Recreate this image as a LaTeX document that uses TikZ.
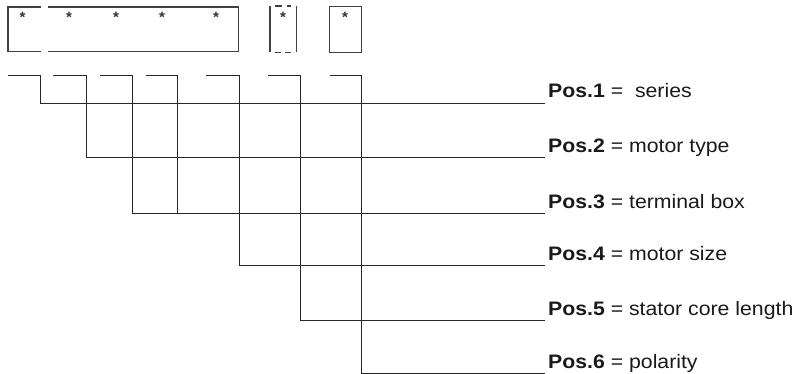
\documentclass[tikz,border=0pt]{standalone}
\usepackage{graphicx}
\usepackage{fontspec}
\setmainfont{Liberation Sans}
\begin{document}
\begin{tikzpicture}[x=1pt,y=-1pt,
  conn/.style={draw=black!85, line width=0.9pt},
  boxline/.style={draw=black!75, line width=1.1pt},
  starmark/.style={anchor=north, inner sep=0pt, font=\fontsize{15}{15}\selectfont\bfseries, text=black!80},
  lbl/.style={anchor=base west, inner sep=0pt, font=\fontsize{19.5}{22}\selectfont, text=black!90}]
\useasboundingbox (0,0) rectangle (795,374);
% top boxes
\node[anchor=north west, minimum width=230pt, minimum height=44pt, inner sep=0pt] (b1) at (8,7) {};
\draw[boxline] ([xshift=33pt]b1.north west) -- (b1.north west) -- (b1.south west) -- ([xshift=33pt]b1.south west);
\draw[boxline] ([xshift=40pt]b1.north west) -- (b1.north east) -- (b1.south east) -- ([xshift=40pt]b1.south west);
\node[anchor=north west, minimum width=26pt, minimum height=46pt, inner sep=0pt] (b2) at (270,6) {};
\draw[boxline] (b2.north west) -- (b2.south west);
\draw[boxline] (b2.north east) -- (b2.south east);
\draw[boxline] ([xshift=5pt]b2.north west) -- ([xshift=12pt]b2.north west);
\draw[boxline] ([xshift=17pt]b2.north west) -- ([xshift=21pt]b2.north west);
\draw[boxline] ([xshift=5pt]b2.south west) -- ([xshift=11pt]b2.south west);
\draw[boxline] ([xshift=15pt]b2.south west) -- ([xshift=21pt]b2.south west);
\node[boxline, anchor=north west, minimum width=32pt, minimum height=46pt, inner sep=0pt] (b3) at (329,6) {};
% stars
\node[starmark] (s1) at (22.5,12) {*};
\node[starmark] (s2) at (69,12) {*};
\node[starmark] (s3) at (116,12) {*};
\node[starmark] (s4) at (162,12) {*};
\node[starmark] (s5) at (216,12) {*};
\node[starmark] (s6) at (283,12) {*};
\node[starmark] (s7) at (345,12) {*};
% labels
\node[lbl] (p1) at (548,98) {\scalebox{1.09}[1]{\textbf{Pos.1} =\ \ series}};
\node[lbl] (p2) at (548,152.5) {\scalebox{1.09}[1]{\textbf{Pos.2} = motor type}};
\node[lbl] (p3) at (548,208.5) {\scalebox{1.09}[1]{\textbf{Pos.3} = terminal box}};
\node[lbl] (p4) at (548,260) {\scalebox{1.09}[1]{\textbf{Pos.4} = motor size}};
\node[lbl] (p5) at (548,315) {\scalebox{1.09}[1]{\textbf{Pos.5} = stator core length}};
\node[lbl] (p6) at (548,368) {\scalebox{1.09}[1]{\textbf{Pos.6} = polarity}};
% line ends
\coordinate (e1) at (545,103);
\coordinate (e2) at (545,157.5);
\coordinate (e3) at (545,213.5);
\coordinate (e4) at (545,265);
\coordinate (e5) at (545,320);
\coordinate (e6) at (545,373);
% bracket tops
\coordinate (l1) at (8,75);   \coordinate (r1) at (40,75);
\coordinate (l2) at (53,75);  \coordinate (r2) at (86,75);
\coordinate (l3) at (100,75); \coordinate (r3) at (132,75);
\coordinate (l4) at (146,75); \coordinate (r4) at (177,75);
\coordinate (l5) at (206,75); \coordinate (r5) at (239,75);
\coordinate (l6) at (268,75); \coordinate (r6) at (300,75);
\coordinate (l7) at (330,75); \coordinate (r7) at (361,75);
% connectors
\draw[conn] (l1) -- (r1) |- (e1);
\draw[conn] (l2) -- (r2) |- (e2);
\draw[conn] (l3) -- (r3) |- (e3);
\draw[conn] (l4) -- (r4) -- (r4 |- e3);
\draw[conn] (l5) -- (r5) |- (e4);
\draw[conn] (l6) -- (r6) |- (e5);
\draw[conn] (l7) -- (r7) |- (e6);
\end{tikzpicture}
\end{document}
